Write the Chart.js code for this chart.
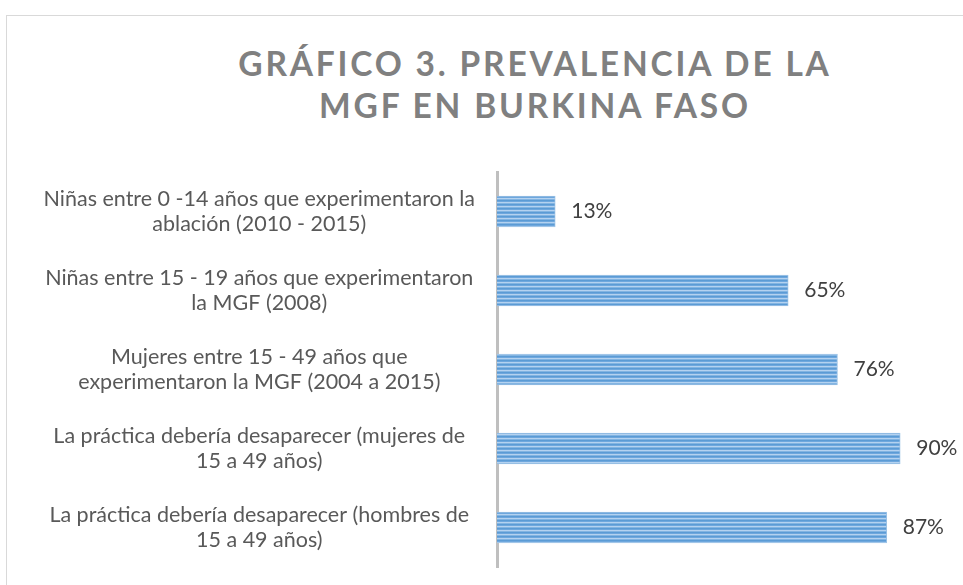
<!DOCTYPE html>
<html>
<head>
<meta charset="utf-8">
<script src="https://cdn.jsdelivr.net/npm/chart.js@4.4.1/dist/chart.umd.min.js"></script>
<style>
  html, body { margin: 0; padding: 0; background: #fff; }
  #wrap { position: relative; width: 963px; height: 585px; overflow: hidden; }
  #frame { position: absolute; left: 6px; top: 15px; width: 1100px; height: 700px; border: 1px solid #d9d9d9; box-sizing: border-box; }
  #title {
    position: absolute; left: 135px; top: 42px; width: 800px;
    text-align: center; font-family: Lato, sans-serif; font-weight: bold;
    font-size: 33.5px; line-height: 42px; letter-spacing: 2.8px; color: #808080;
  }
  canvas { position: absolute; left: 0; top: 0; }
</style>
</head>
<body>
<div id="wrap">
  <div id="frame"></div>
  <div id="title">GRÁFICO 3. PREVALENCIA DE LA<br>MGF EN BURKINA FASO</div>
  <canvas id="chart" width="963" height="585"></canvas>
</div>
<script>
const categories = [
    ['Niñas entre 0 -14 años que experimentaron la', 'ablación (2010 - 2015)'],
    ['Niñas entre 15 - 19 años que experimentaron', 'la MGF (2008)'],
    ['Mujeres entre 15 - 49 años que', 'experimentaron la MGF (2004 a 2015)'],
    ['La práctica debería desaparecer (mujeres de', '15 a 49 años)'],
    ['La práctica debería desaparecer (hombres de', '15 a 49 años)']
];
const values = [13, 65, 76, 90, 87];

function stripePattern() {
    const c = document.createElement('canvas');
    c.width = 8;
    c.height = 4;
    const g = c.getContext('2d');
    const rows = ['#5b9bd5', '#6ea7dd', '#b4d2f0', '#82b4e2'];
    rows.forEach((col, i) => {
        g.fillStyle = col;
        g.fillRect(0, i, 8, 1);
    });
    return g.createPattern(c, 'repeat');
}

const valueLabels = {
    id: 'valueLabels',
    afterDatasetsDraw(chart) {
        const ctx = chart.ctx;
        const meta = chart.getDatasetMeta(0);
        ctx.save();
        ctx.font = '21px Lato, sans-serif';
        ctx.fillStyle = '#404040';
        ctx.textAlign = 'left';
        ctx.textBaseline = 'middle';
        meta.data.forEach((bar, i) => {
            ctx.fillText(values[i] + '%', bar.x + 16, bar.y);
        });
        ctx.restore();
    }
};

const ctx = document.getElementById('chart').getContext('2d');
const chart = new Chart(ctx, {
    type: 'bar',
    data: {
        labels: categories,
        datasets: [{
            data: values,
            backgroundColor: stripePattern(),
            borderColor: '#9dc3e6',
            borderWidth: 1,
            barThickness: 31
        }]
    },
    options: {
        indexAxis: 'y',
        responsive: false,
        animation: false,
        layout: {
            padding: { top: 172, bottom: 18, left: 0, right: 18 }
        },
        plugins: {
            legend: { display: false },
            tooltip: { enabled: false }
        },
        scales: {
            x: {
                display: false,
                min: 0,
                max: 100
            },
            y: {
                grid: { display: false, drawTicks: false },
                border: { display: true, color: '#bfbfbf', width: 3 },
                ticks: {
                    color: '#595959',
                    font: { family: 'Lato, sans-serif', size: 21.5 },
                    crossAlign: 'center',
                    padding: 22
                },
                afterFit(scale) {
                    scale.width = 497;
                    scale.paddingTop = 0;
                    scale.paddingBottom = 0;
                }
            }
        }
    },
    plugins: [valueLabels]
});
</script>
</body>
</html>
